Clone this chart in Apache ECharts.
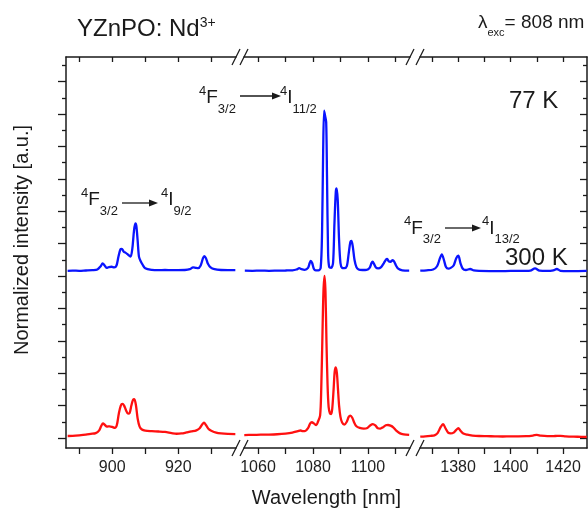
<!DOCTYPE html>
<html>
<head>
<meta charset="utf-8">
<script src="https://cdn.jsdelivr.net/npm/echarts@6/dist/echarts.min.js"></script>
<style>
  html, body { margin: 0; padding: 0; background: #fff; }
  #chart { width: 588px; height: 509px; }
</style>
</head>
<body>
<div id="chart"></div>
<script>
// Nd3+ emission of YZnPO, three windows of the NIR spectrum (wavelength nm, normalized intensity)

// 4F3/2 -> 4I9/2 window
const band900_300K = [
  [886.5,0.012],[888,0.013],[890,0.016],[892,0.02],[893.5,0.025],[895,0.03],[896,0.045],[896.7,0.075],
  [897.2,0.09],[897.8,0.08],[898.4,0.07],[899.2,0.072],[900,0.068],[900.8,0.062],[901.4,0.08],[902,0.15],
  [902.6,0.2],[903.1,0.21],[903.6,0.2],[904.2,0.17],[904.8,0.15],[905.3,0.155],[905.8,0.2],[906.3,0.235],
  [906.7,0.24],[907.2,0.2],[907.7,0.12],[908.3,0.07],[909,0.052],[910,0.045],[912,0.042],[914,0.04],
  [916,0.037],[918,0.03],[919.5,0.026],[921,0.028],[922.5,0.034],[924,0.04],[925.5,0.047],[926.5,0.06],
  [927.3,0.085],[927.8,0.095],[928.4,0.08],[929.2,0.055],[930,0.045],[931.5,0.033],[933,0.028],[935,0.025],[937.3,0.024]
];
const band900_77K = [
  [886.5,0.012],[888,0.013],[890,0.012],[892,0.014],[894,0.016],[895.5,0.02],[896.5,0.04],[897.1,0.058],
  [897.7,0.045],[898.3,0.03],[899,0.035],[899.8,0.037],[900.6,0.033],[901.3,0.045],[901.9,0.1],[902.5,0.145],
  [902.9,0.147],[903.5,0.13],[904,0.124],[904.6,0.115],[905.2,0.105],[905.6,0.1],[906.1,0.15],[906.6,0.26],
  [907.0,0.305],[907.3,0.29],[907.7,0.2],[908.1,0.1],[908.6,0.072],[909.2,0.05],[910,0.028],[912,0.018],
  [914,0.016],[916,0.017],[918,0.016],[920,0.016],[922,0.017],[923.5,0.022],[924.5,0.033],[925.3,0.03],
  [926,0.028],[926.8,0.045],[927.5,0.09],[927.9,0.103],[928.4,0.09],[929,0.055],[929.8,0.033],[931,0.022],
  [933,0.017],[935,0.016],[937.3,0.016]
];

// 4F3/2 -> 4I11/2 window
const band1060_300K = [
  [1055,0.018],[1058,0.019],[1061,0.02],[1064,0.021],[1067,0.023],[1070,0.027],[1072.5,0.033],[1074.5,0.042],
  [1075.5,0.046],[1076.3,0.042],[1077.2,0.043],[1078.2,0.06],[1079,0.09],[1079.6,0.097],[1080.3,0.09],[1081.2,0.08],
  [1081.8,0.1],[1082.6,0.14],[1083.0,0.3],[1083.4,0.6],[1083.8,0.9],[1084.2,1.0],[1084.55,0.9],[1084.9,0.6],
  [1085.3,0.33],[1085.7,0.19],[1086.2,0.15],[1086.6,0.148],[1087.0,0.18],[1087.5,0.3],[1087.9,0.41],[1088.3,0.436],
  [1088.7,0.4],[1089.1,0.3],[1089.5,0.2],[1090.0,0.13],[1090.6,0.095],[1091.4,0.082],[1092.3,0.1],[1093.0,0.13],
  [1093.6,0.138],[1094.3,0.125],[1095.0,0.095],[1095.8,0.072],[1097,0.062],[1098.5,0.058],[1099.8,0.062],[1100.8,0.077],
  [1101.8,0.086],[1102.7,0.077],[1103.6,0.06],[1104.5,0.058],[1105.5,0.066],[1106.5,0.078],[1107.3,0.08],[1108.2,0.076],
  [1109.2,0.066],[1110.3,0.045],[1111.5,0.03],[1113,0.022],[1115,0.019]
];
const band1060_77K = [
  [1055.2,0.013],[1058,0.012],[1061,0.013],[1064,0.012],[1067,0.013],[1070,0.014],[1072.5,0.015],[1074,0.02],
  [1075,0.028],[1075.8,0.022],[1077,0.018],[1078.2,0.03],[1078.8,0.06],[1079.2,0.073],[1079.7,0.06],[1080.3,0.025],
  [1081,0.015],[1082,0.015],[1082.8,0.03],[1083.3,0.25],[1083.7,0.75],[1084.05,1.0],[1084.4,0.97],[1084.8,0.93],
  [1085.1,0.6],[1085.5,0.12],[1085.9,0.035],[1086.6,0.03],[1087.3,0.06],[1087.8,0.3],[1088.3,0.5],[1088.6,0.52],
  [1089.0,0.45],[1089.5,0.2],[1090.0,0.06],[1090.6,0.03],[1091.4,0.028],[1092.3,0.04],[1093.0,0.12],[1093.6,0.19],
  [1094.0,0.196],[1094.5,0.16],[1095.1,0.08],[1095.8,0.035],[1096.6,0.02],[1098,0.017],[1099.5,0.018],[1100.6,0.03],
  [1101.3,0.06],[1101.7,0.068],[1102.2,0.055],[1102.9,0.032],[1103.7,0.027],[1104.8,0.035],[1105.8,0.06],[1106.6,0.082],
  [1107.0,0.085],[1107.6,0.07],[1108.2,0.068],[1109.0,0.078],[1109.5,0.07],[1110.2,0.045],[1111,0.025],[1112.5,0.015],[1115,0.013]
];

// 4F3/2 -> 4I13/2 window
const band1380_300K = [
  [1365.6,0.008],[1367.5,0.01],[1369.5,0.013],[1371,0.016],[1372.2,0.03],[1373.3,0.065],[1374.3,0.086],[1375.2,0.06],
  [1376.2,0.033],[1377.2,0.028],[1378.3,0.033],[1379.3,0.05],[1380.1,0.06],[1380.9,0.045],[1382,0.027],[1383.5,0.02],
  [1385.5,0.015],[1388,0.012],[1391,0.011],[1394,0.01],[1397,0.009],[1400,0.01],[1403,0.01],[1406,0.011],
  [1408.5,0.015],[1410,0.019],[1411.5,0.014],[1414,0.011],[1417,0.012],[1419,0.013],[1421,0.01],[1424,0.008],
  [1427,0.007],[1429,0.006]
];
const band1380_77K = [
  [1365.6,0.013],[1368,0.015],[1370.5,0.02],[1372,0.04],[1373.1,0.09],[1373.8,0.114],[1374.6,0.08],[1375.4,0.035],
  [1376.3,0.025],[1377.2,0.03],[1378.3,0.045],[1379.3,0.09],[1380.1,0.105],[1380.9,0.06],[1381.8,0.025],[1383,0.017],
  [1384.6,0.023],[1386,0.014],[1388,0.011],[1392,0.01],[1396,0.01],[1400,0.011],[1404,0.011],[1407.5,0.013],
  [1409.3,0.027],[1411,0.013],[1414,0.011],[1416.3,0.015],[1417.6,0.023],[1419,0.012],[1422,0.01],[1425,0.01],[1429,0.011]
];

// vertical shift of the 77 K trace
const OFFSET_77K = 1.02;

// axis windows and tick marks
const xRanges = [[886, 937.5], [1054.9, 1115.3], [1365.5, 1429.1]];
const xTicks = [[890,900,910,920,930], [1060,1070,1080,1090,1100,1110], [1370,1380,1390,1400,1410,1420]];
const xTickLabels = [[900,920], [1060,1080,1100], [1380,1400,1420]];
const yMajorTicks = [0,0.2,0.4,0.6,0.8,1.0,1.2,1.4,1.6,1.8,2.0,2.2];
const yMinorTicks = [0.1,0.3,0.5,0.7,0.9,1.1,1.3,1.5,1.7,1.9,2.1,2.3];
const yRange = [-0.062, 2.352];

const FONT = 'Liberation Sans, Arial, sans-serif';
const INK = '#1a1a1a';
const grids = [
  { left: 66, top: 57, width: 170, height: 391 },
  { left: 244, top: 57, width: 166, height: 391 },
  { left: 420, top: 57, width: 167, height: 391 }
];

const xAxis = [];
grids.forEach((g, i) => {
  xAxis.push({
    type: 'value', gridIndex: i, position: 'bottom', min: xRanges[i][0], max: xRanges[i][1],
    axisLine: { show: true, onZero: false, lineStyle: { color: INK, width: 1.5 } },
    axisTick: { show: true, inside: false, length: 6, customValues: xTicks[i], lineStyle: { color: INK, width: 1.3 } },
    axisLabel: { show: true, customValues: xTickLabels[i], margin: 12, fontSize: 16, color: '#222', fontFamily: FONT,
      formatter: v => String(v) },
    splitLine: { show: false }
  });
});
grids.forEach((g, i) => {
  xAxis.push({
    type: 'value', gridIndex: i, position: 'top', min: xRanges[i][0], max: xRanges[i][1],
    axisLine: { show: true, onZero: false, lineStyle: { color: INK, width: 1.5 } },
    axisTick: { show: true, inside: true, length: 5, customValues: xTicks[i], lineStyle: { color: INK, width: 1.3 } },
    axisLabel: { show: false },
    splitLine: { show: false }
  });
});

function yAx(gi, pos, showLine, inside, len, ticks, show) {
  return {
    type: 'value', gridIndex: gi, position: pos, min: yRange[0], max: yRange[1], show: show,
    axisLine: { show: showLine, onZero: false, lineStyle: { color: INK, width: 1.5 } },
    axisTick: { show: true, inside: inside, length: len, customValues: ticks, lineStyle: { color: INK, width: 1.3 } },
    axisLabel: { show: false },
    splitLine: { show: false }
  };
}
const yAxis = [
  yAx(0, 'left', true, false, 8, yMajorTicks, true),
  yAx(1, 'left', false, false, 0, [], false),
  yAx(2, 'right', true, true, 7, yMajorTicks, true),
  yAx(0, 'left', false, false, 4, yMinorTicks, true),
  yAx(2, 'right', false, true, 4, yMinorTicks, true)
];

function shifted(arr) { return arr.map(p => [p[0], p[1] + OFFSET_77K]); }
function line(data, gi, color, name) {
  return {
    type: 'line', name: name, xAxisIndex: gi, yAxisIndex: gi, data: data,
    showSymbol: false, smooth: 0.3, animation: false, clip: true,
    lineStyle: { color: color, width: 2.3 }
  };
}
const BLUE = '#0a14ff', RED = '#ff1010';
const series = [
  line(shifted(band900_77K), 0, BLUE, '77 K'),
  line(shifted(band1060_77K), 1, BLUE, '77 K'),
  line(shifted(band1380_77K), 2, BLUE, '77 K'),
  line(band900_300K, 0, RED, '300 K'),
  line(band1060_300K, 1, RED, '300 K'),
  line(band1380_300K, 2, RED, '300 K')
];

// axis-break slashes at the window edges
const breakX = [236, 244, 410, 420];
const graphic = [];
[57, 448].forEach(y => {
  breakX.forEach(x => {
    graphic.push({ type: 'line', shape: { x1: x - 4, y1: y + 8, x2: x + 4, y2: y - 8 },
      style: { stroke: INK, lineWidth: 1.3 }, z: 10 });
  });
});

// transition labels with arrows
const richTerm = {
  m: { fontSize: 19, lineHeight: 35, fontFamily: FONT, fill: INK },
  s: { fontSize: 13, height: 21, verticalAlign: 'top', fontFamily: FONT, fill: INK },
  b: { fontSize: 13, verticalAlign: 'bottom', fontFamily: FONT, fill: INK }
};
function term(x, y, text) {
  return { type: 'text', x: x, y: y, z: 10,
    style: { text: text, rich: richTerm, verticalAlign: 'middle', align: 'left' } };
}
function arrow(x1, x2, y) {
  return [
    { type: 'line', shape: { x1: x1, y1: y, x2: x2 - 6, y2: y }, style: { stroke: INK, lineWidth: 1.3 }, z: 10 },
    { type: 'polygon', shape: { points: [[x2, y], [x2 - 9, y - 3.5], [x2 - 9, y + 3.5]] }, style: { fill: INK }, z: 10 }
  ];
}
graphic.push(term(81, 200, '{s|4}{m|F}{b|3/2}'));
graphic.push(...arrow(122, 158, 203));
graphic.push(term(161, 200, '{s|4}{m|I}{b|9/2}'));

graphic.push(term(199, 98, '{s|4}{m|F}{b|3/2}'));
graphic.push(...arrow(240, 281, 96));
graphic.push(term(280, 98, '{s|4}{m|I}{b|11/2}'));

graphic.push(term(404, 228.5, '{s|4}{m|F}{b|3/2}'));
graphic.push(...arrow(445, 481, 228));
graphic.push(term(482, 228.5, '{s|4}{m|I}{b|13/2}'));

// temperatures
graphic.push({ type: 'text', x: 509, y: 101, z: 10,
  style: { text: '77 K', fontSize: 24, fontFamily: FONT, fill: INK, verticalAlign: 'middle' } });
graphic.push({ type: 'text', x: 505, y: 258, z: 10,
  style: { text: '300 K', fontSize: 24, fontFamily: FONT, fill: INK, verticalAlign: 'middle' } });

// title and excitation wavelength
graphic.push({ type: 'text', x: 77, y: 29, z: 10,
  style: { text: '{m|YZnPO: Nd}{s|3+}', verticalAlign: 'middle',
    rich: {
      m: { fontSize: 24, lineHeight: 26, fontFamily: FONT, fill: INK },
      s: { fontSize: 14, verticalAlign: 'top', fontFamily: FONT, fill: INK }
    } } });
graphic.push({ type: 'text', x: 478, y: 23, z: 10,
  style: { text: '{m|λ}{b|exc}{m|= 808 nm}', verticalAlign: 'middle',
    rich: {
      m: { fontSize: 19, lineHeight: 31, fontFamily: FONT, fill: INK },
      b: { fontSize: 11, verticalAlign: 'bottom', fontFamily: FONT, fill: INK }
    } } });

// axis titles
graphic.push({ type: 'text', x: 326.5, y: 498, z: 10,
  style: { text: 'Wavelength [nm]', fontSize: 20, fontFamily: FONT, fill: INK, align: 'center', verticalAlign: 'middle' } });
graphic.push({ type: 'text', x: 22, y: 240, rotation: Math.PI / 2, z: 10,
  style: { text: 'Normalized intensity [a.u.]', fontSize: 20, fontFamily: FONT, fill: INK, align: 'center', verticalAlign: 'middle' } });

const chart = echarts.init(document.getElementById('chart'), null, { renderer: 'canvas' });
chart.setOption({
  animation: false,
  backgroundColor: '#fff',
  grid: grids,
  xAxis: xAxis,
  yAxis: yAxis,
  series: series,
  graphic: graphic
});
</script>
</body>
</html>
